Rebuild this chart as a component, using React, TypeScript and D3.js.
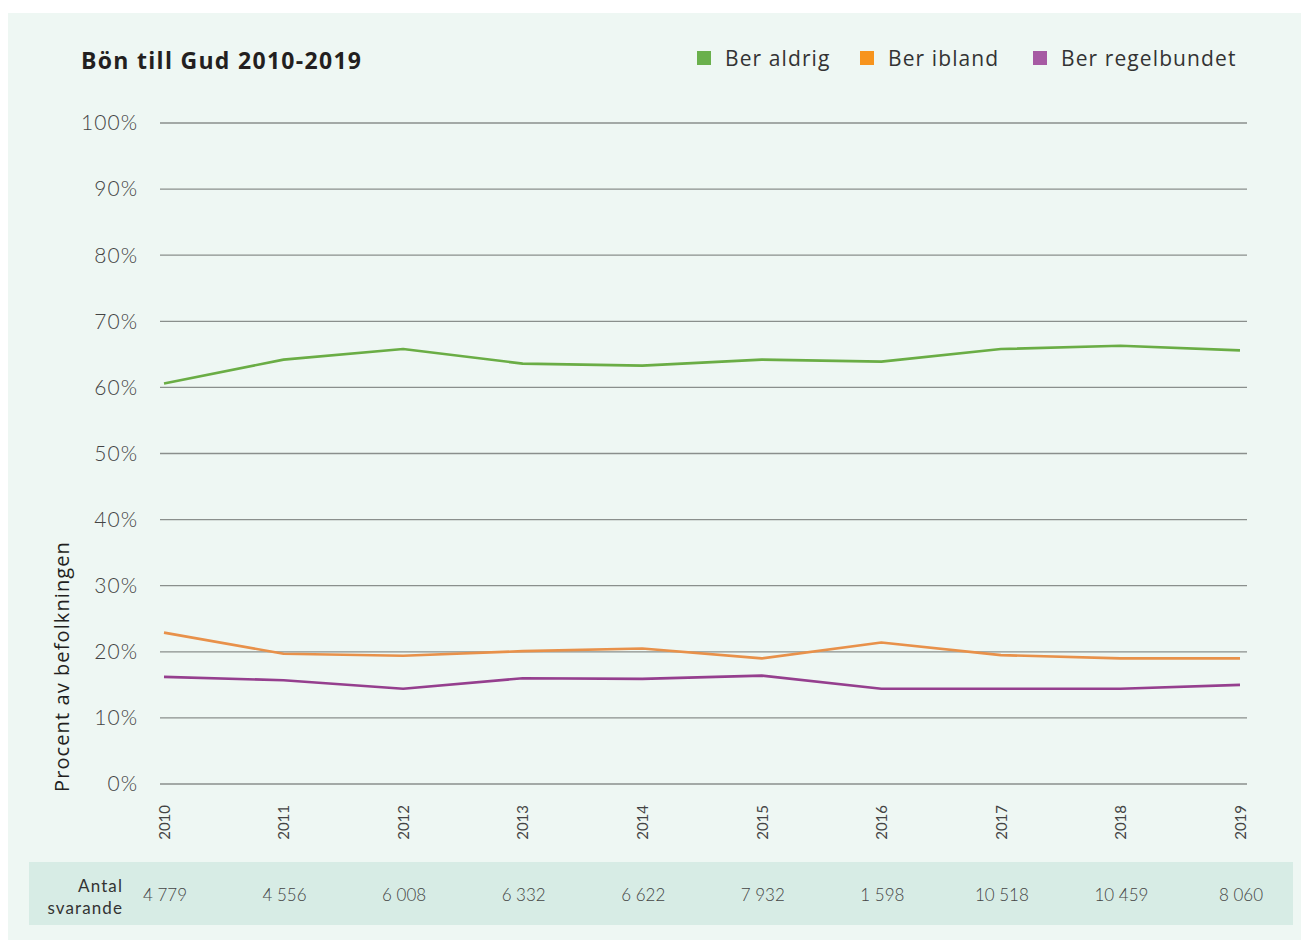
import React from "react";
import * as d3 from "d3";

const years = ["2010", "2011", "2012", "2013", "2014", "2015", "2016", "2017", "2018", "2019"];
const berAldrig = [60.6, 64.2, 65.8, 63.6, 63.3, 64.2, 63.9, 65.8, 66.3, 65.6];
const berIbland = [22.9, 19.7, 19.4, 20.1, 20.5, 19.0, 21.4, 19.5, 19.0, 19.0];
const berRegelbundet = [16.2, 15.7, 14.4, 16.0, 15.9, 16.4, 14.4, 14.4, 14.4, 15.0];
const antalSvarande = ["4 779", "4 556", "6 008", "6 332", "6 622", "7 932", "1 598", "10 518", "10 459", "8 060"];
const yTicks = [0, 10, 20, 30, 40, 50, 60, 70, 80, 90, 100];

const seriesNames = ["Ber aldrig", "Ber ibland", "Ber regelbundet"];
const lineColors = ["#6aad45", "#e8914a", "#953f8e"];
const legendColors = ["#6ab04c", "#f7941d", "#a65aa3"];

const W = 1309;
const H = 946;
const FONT = "Lato, 'Open Sans', sans-serif";
const WIDE = "'Open Sans', Lato, sans-serif";

export default function App() {
  const x = d3.scalePoint<string>().domain(years).range([164, 1240]);
  const y = d3.scaleLinear().domain([0, 100]).range([784, 123]);
  const line = d3
    .line<number>()
    .x((_, i) => x(years[i]) as number)
    .y((d) => y(d));
  const series = [berAldrig, berIbland, berRegelbundet];
  const legendX = [697, 860, 1033];

  return (
    <svg
      width={W}
      height={H}
      style={{ position: "absolute", left: 0, top: 0, display: "block" }}
      fontFamily={FONT}
    >
      <rect x={0} y={0} width={W} height={H} fill="#ffffff" />
      <rect x={8} y={13} width={1293} height={927} fill="#eef7f3" />
      <rect x={29} y={862} width={1264} height={63} fill="#d7ece5" />

      <text x={81} y={69} fontSize={23} fontWeight={700} fill="#231f20" fontFamily={WIDE} letterSpacing={1.3}>
        Bön till Gud 2010-2019
      </text>

      {seriesNames.map((n, i) => (
        <g key={n}>
          <rect x={legendX[i]} y={51} width={14} height={14} fill={legendColors[i]} />
          <text x={legendX[i] + 28} y={66} fontSize={21} fill="#333333" fontFamily={WIDE} letterSpacing={1.1}>
            {n}
          </text>
        </g>
      ))}

      {yTicks.map((t) => (
        <g key={t}>
          <line x1={160} x2={1247} y1={y(t)} y2={y(t)} stroke="#8a8f8c" strokeWidth={1.3} />
          <text
            x={138}
            y={y(t)}
            dy="0.35em"
            textAnchor="end"
            fontSize={21}
            fontWeight={300}
            fill="#444444"
            letterSpacing={1}
          >
            {t}%
          </text>
        </g>
      ))}

      <text
        transform={`translate(69,792) rotate(-90)`}
        fontSize={20}
        fill="#231f20"
        textAnchor="start"
        fontFamily={WIDE}
        letterSpacing={1.1}
      >
        Procent av befolkningen
      </text>

      {series.map((s, i) => (
        <path
          key={i}
          d={line(s) || ""}
          fill="none"
          stroke={lineColors[i]}
          strokeWidth={2.6}
          strokeLinejoin="round"
        />
      ))}

      {years.map((yr) => (
        <text
          key={yr}
          transform={`translate(${(x(yr) as number) + 2},805) rotate(-90)`}
          textAnchor="end"
          dominantBaseline="middle"
          fontSize={15}
          fill="#444444"
        >
          {yr}
        </text>
      ))}

      <text x={123} y={892} textAnchor="end" fontSize={17} fill="#333333" letterSpacing={1.1}>
        Antal
      </text>
      <text x={123} y={914} textAnchor="end" fontSize={17} fill="#333333" letterSpacing={1.1}>
        svarande
      </text>
      {antalSvarande.map((v, i) => (
        <text
          key={i}
          x={(x(years[i]) as number) + 1}
          y={901}
          textAnchor="middle"
          fontSize={17}
          fontWeight={300}
          fill="#444444"
        >
          {v}
        </text>
      ))}
    </svg>
  );
}
